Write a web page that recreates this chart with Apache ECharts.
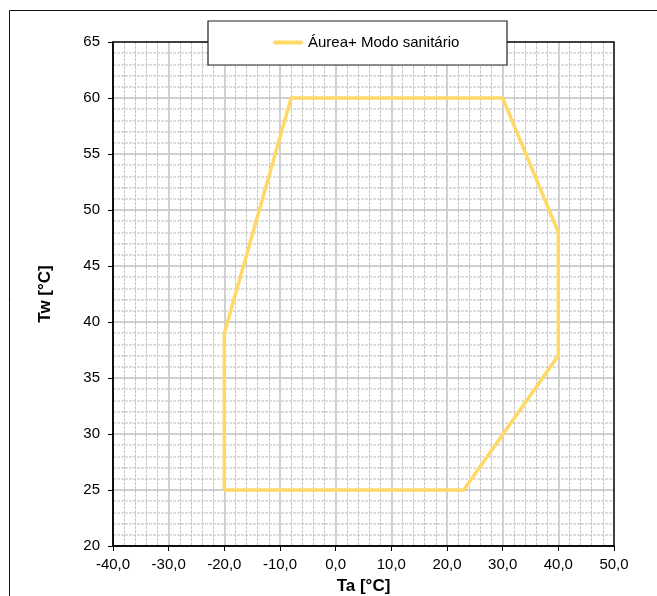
<!DOCTYPE html>
<html>
<head>
<meta charset="utf-8">
<script src="https://cdn.jsdelivr.net/npm/echarts@6/dist/echarts.min.js"></script>
<style>html,body{margin:0;padding:0;background:#fff;}#c{width:657px;height:596px;}</style>
</head>
<body>
<div id="c"></div>
<script>
var seriesName = 'Áurea+ Modo sanitário';
var taValues = [-20, -20, -8, 30, 40, 40, 23, -20];
var twValues = [25, 39, 60, 60, 48, 37, 25, 25];
var xAxisName = 'Ta [°C]';
var yAxisName = 'Tw [°C]';

var chart = echarts.init(document.getElementById('c'), null, {renderer: 'canvas'});
var font = '"Liberation Sans", Arial, sans-serif';
var pts = taValues.map(function (x, i) { return [x, twValues[i]]; });
var lineIcon = 'path://M2,0 L28,0 A2,2 0 0 1 28,4 L2,4 A2,2 0 0 1 2,0 Z';
chart.setOption({
  animation: false,
  backgroundColor: '#fff',
  textStyle: {fontFamily: font},
  grid: {left: 113, top: 42, width: 501, height: 504, outerBoundsMode: 'none', containLabel: false, show: true, borderColor: '#000', borderWidth: 1.5, backgroundColor: 'transparent', z: 3},
  graphic: [
    {type: 'rect', shape: {x: 9.5, y: 10.5, width: 700, height: 700}, style: {fill: 'none', stroke: '#111', lineWidth: 1}, z: 0, silent: true},
    {type: 'rect', shape: {x: 208, y: 21, width: 299, height: 44}, style: {fill: '#fff', stroke: '#222', lineWidth: 1.2}, z: 50, silent: true}
  ],
  legend: {
    left: 273, top: 35, z: 60, padding: 0,
    itemWidth: 30, itemHeight: 4,
    textStyle: {fontFamily: font, fontSize: 15, color: '#000'},
    data: [{name: seriesName, icon: lineIcon, itemStyle: {color: '#FFD966'}}]
  },
  xAxis: {
    type: 'value', min: -40, max: 50, interval: 10,
    name: xAxisName, nameLocation: 'middle', nameGap: 32,
    nameTextStyle: {fontFamily: font, fontSize: 17, fontWeight: 'bold', color: '#000'},
    axisLine: {show: true, onZero: false, lineStyle: {color: '#000', width: 1.5}},
    axisTick: {show: true, length: 5, lineStyle: {color: '#000', width: 1}},
    axisLabel: {margin: 11, fontFamily: font, fontSize: 15, color: '#000', formatter: function (v) { return v.toFixed(1).replace('.', ','); }},
    splitLine: {show: true, showMinLine: false, showMaxLine: false, lineStyle: {color: '#d0d0d0', width: 2}},
    minorTick: {show: false, splitNumber: 5},
    minorSplitLine: {show: true, lineStyle: {color: '#c4c4c4', width: 1, type: [3, 1]}}
  },
  yAxis: {
    type: 'value', min: 20, max: 65, interval: 5,
    name: yAxisName, nameLocation: 'middle', nameGap: 59,
    nameTextStyle: {fontFamily: font, fontSize: 17, fontWeight: 'bold', color: '#000'},
    axisLine: {show: true, onZero: false, lineStyle: {color: '#000', width: 1.5}},
    axisTick: {show: true, length: 5, lineStyle: {color: '#000', width: 1}},
    axisLabel: {margin: 13, fontFamily: font, fontSize: 15, color: '#000'},
    splitLine: {show: true, showMinLine: false, showMaxLine: false, lineStyle: {color: '#d0d0d0', width: 2}},
    minorTick: {show: false, splitNumber: 5},
    minorSplitLine: {show: true, lineStyle: {color: '#d4d4d4', width: 1.5, type: [3, 1]}}
  },
  series: [{
    name: seriesName, type: 'line', data: pts, symbol: 'none',
    lineStyle: {color: '#FFD966', width: 3.5, join: 'miter'},
    itemStyle: {color: '#FFD966'}, z: 5
  }]
});
</script>
</body>
</html>
